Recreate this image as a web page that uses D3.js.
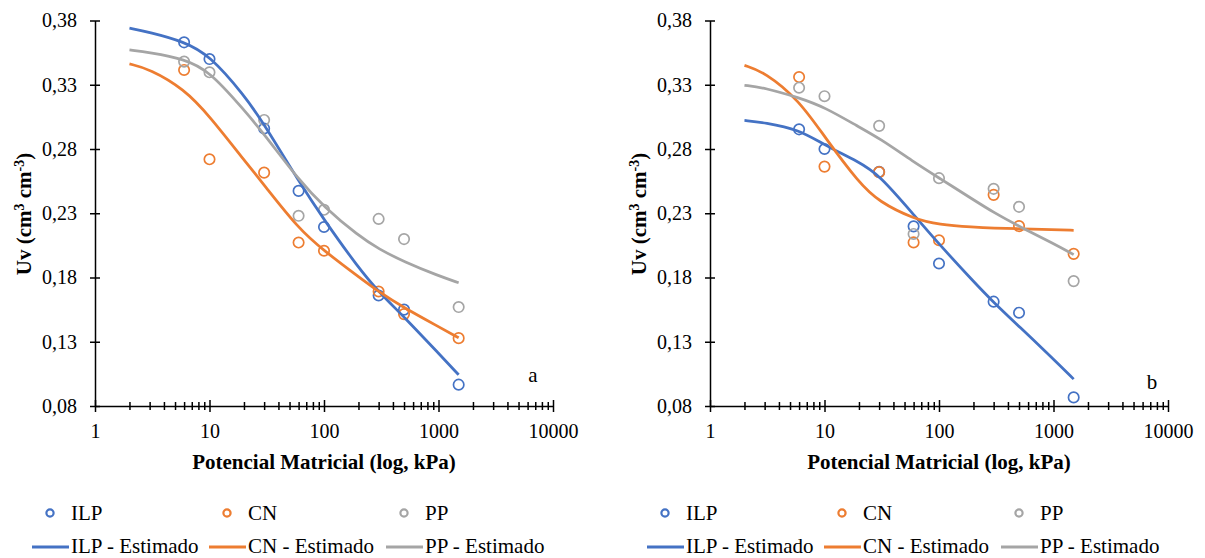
<!DOCTYPE html>
<html>
<head>
<meta charset="utf-8">
<script src="https://cdnjs.cloudflare.com/ajax/libs/d3/7.8.5/d3.min.js"></script>
<style>
  body { margin: 0; background: #fff; }
</style>
</head>
<body>
<svg id="chart" width="1205" height="558"></svg>
<script>
// measured points (kPa -> Uv)
const potencial = [6, 10, 30, 60, 100, 300, 500, 1500];
const aILP = [0.3630, 0.3500, 0.2960, 0.2474, 0.2193, 0.1660, 0.1550, 0.0966];
const aCN  = [0.3415, 0.2720, 0.2616, 0.2072, 0.2008, 0.1691, 0.1515, 0.1328];
const aPP  = [0.3480, 0.3397, 0.3026, 0.2280, 0.2327, 0.2256, 0.2099, 0.1570];
const bILP = [0.2953, 0.2800, 0.2622, 0.2198, 0.1909, 0.1612, 0.1526, 0.0867];
const bCN  = [0.3360, 0.2663, 0.2620, 0.2073, 0.2090, 0.2443, 0.2200, 0.1984];
const bPP  = [0.3277, 0.3211, 0.2980, 0.2139, 0.2573, 0.2490, 0.2350, 0.1772];

// fitted curves, read along these kPa values
const estKPa = [2, 3, 6, 10, 20, 30, 60, 100, 200, 300, 500, 1000, 1500];
const aILPest = [0.3740, 0.3708, 0.3635, 0.3530, 0.3220, 0.2995, 0.2550, 0.2249, 0.1875, 0.1689, 0.1494, 0.1210, 0.1043];
const aCNest  = [0.3462, 0.3423, 0.3267, 0.3057, 0.2715, 0.2520, 0.2179, 0.2008, 0.1806, 0.1689, 0.1564, 0.1417, 0.1331];
const aPPest  = [0.3571, 0.3551, 0.3501, 0.3407, 0.3104, 0.2917, 0.2560, 0.2350, 0.2124, 0.2023, 0.1922, 0.1813, 0.1759];
const bILPest = [0.3022, 0.3005, 0.2951, 0.2830, 0.2700, 0.2600, 0.2290, 0.2060, 0.1769, 0.1606, 0.1420, 0.1164, 0.1009];
const bCNest  = [0.3451, 0.3399, 0.3180, 0.2895, 0.2536, 0.2389, 0.2257, 0.2211, 0.2191, 0.2184, 0.2180, 0.2172, 0.2167];
const bPPest  = [0.3296, 0.3277, 0.3199, 0.3126, 0.2971, 0.2885, 0.2700, 0.2575, 0.2405, 0.2306, 0.2198, 0.2064, 0.1978];

const yTicks = [0.08, 0.13, 0.18, 0.23, 0.28, 0.33, 0.38];
const xMajor = [1, 10, 100, 1000, 10000];
const names = ["ILP", "CN", "PP"];
const colors = ["#4472C4", "#ED7D31", "#A5A5A5"];

const FONT = '"Times New Roman", Times, "Liberation Serif", Tinos, "Noto Serif", "DejaVu Serif", serif';
const svg = d3.select("#chart").style("font-family", FONT);

function drawPanel(dx, label, points, curves) {
  const g = svg.append("g").attr("transform", `translate(${dx},0)`);

  const x = d3.scaleLog().domain([1, 10000]).range([95, 553]);
  const y = d3.scaleLinear().domain([0.08, 0.38]).range([406, 20.5]);

  // y axis
  const yAxis = d3.axisLeft(y)
    .tickValues(yTicks)
    .tickFormat(d => d3.format(".2f")(d).replace(".", ","))
    .tickSize(5).tickSizeOuter(0).tickPadding(13);
  const ya = g.append("g").attr("transform", "translate(95,0)").call(yAxis);
  ya.selectAll(".tick line").attr("x1", 5);

  // x axis with minor ticks
  let xAll = [];
  [1, 10, 100, 1000].forEach(d => { for (let m = 1; m < 10; m++) xAll.push(m * d); });
  xAll.push(10000);
  const xAxis = d3.axisBottom(x)
    .tickValues(xAll)
    .tickFormat(d => xMajor.includes(d) ? d : "")
    .tickSizeOuter(0);
  const xa = g.append("g").attr("transform", "translate(0,406)").call(xAxis);
  xa.selectAll(".tick line")
    .attr("y1", d => xMajor.includes(d) ? -6 : -4)
    .attr("y2", d => xMajor.includes(d) ? 6 : 4);
  xa.selectAll("text").attr("y", 18);

  [ya, xa].forEach(a => {
    a.attr("font-family", null).style("font-family", FONT).attr("font-size", 20);
    a.selectAll("text").attr("fill", "#000");
    a.select(".domain").attr("stroke", "#000").attr("stroke-width", 1.5);
    a.selectAll(".tick line").attr("stroke", "#000").attr("stroke-width", 1.5);
  });

  // measured points
  points.forEach((vals, i) => {
    g.append("g").selectAll("circle")
      .data(potencial.map((p, j) => [p, vals[j]]))
      .join("circle")
      .attr("cx", d => x(d[0]))
      .attr("cy", d => y(d[1]))
      .attr("r", 5.2)
      .attr("fill", "none")
      .attr("stroke", colors[i])
      .attr("stroke-width", 1.7);
  });

  // fitted curves
  const line = d3.line().x(d => x(d[0])).y(d => y(d[1])).curve(d3.curveBasis);
  curves.forEach((vals, i) => {
    g.append("path")
      .datum(estKPa.map((p, j) => [p, vals[j]]))
      .attr("d", line)
      .attr("fill", "none")
      .attr("stroke", colors[i])
      .attr("stroke-width", 2.75);
  });

  // axis titles
  g.append("text")
    .attr("x", 324).attr("y", 469)
    .attr("text-anchor", "middle")
    .style("font-size", "21px").style("font-weight", "bold")
    .text("Potencial Matricial (log, kPa)");

  const yt = g.append("text")
    .attr("transform", "translate(31,214) rotate(-90)")
    .attr("text-anchor", "middle")
    .style("font-size", "21px").style("font-weight", "bold");
  yt.append("tspan").text("Uv (cm");
  yt.append("tspan").attr("dy", -7).style("font-size", "14px").text("3");
  yt.append("tspan").attr("dy", 7).text(" cm");
  yt.append("tspan").attr("dy", -7).style("font-size", "14px").text("-3");
  yt.append("tspan").attr("dy", 7).text(")");

  g.append("text")
    .attr("x", label === "a" ? 533 : 537).attr("y", label === "a" ? 382 : 389)
    .attr("text-anchor", "middle")
    .style("font-size", "21px")
    .text(label);

  // legend
  const colW = 177, lx = 32;
  names.forEach((n, i) => {
    const cx = lx + i * colW;
    g.append("circle")
      .attr("cx", cx + 18).attr("cy", 513).attr("r", 3.6)
      .attr("fill", "none").attr("stroke", colors[i]).attr("stroke-width", 2.2);
    g.append("text").attr("x", cx + 39).attr("y", 520)
      .style("font-size", "21px").text(n);
    g.append("line")
      .attr("x1", cx).attr("x2", cx + 37).attr("y1", 547).attr("y2", 547)
      .attr("stroke", colors[i]).attr("stroke-width", 3);
    g.append("text").attr("x", cx + 39).attr("y", 553)
      .style("font-size", "21px").text(n + " - Estimado");
  });
}

drawPanel(0, "a", [aILP, aCN, aPP], [aILPest, aCNest, aPPest]);
drawPanel(615, "b", [bILP, bCN, bPP], [bILPest, bCNest, bPPest]);
</script>
</body>
</html>
